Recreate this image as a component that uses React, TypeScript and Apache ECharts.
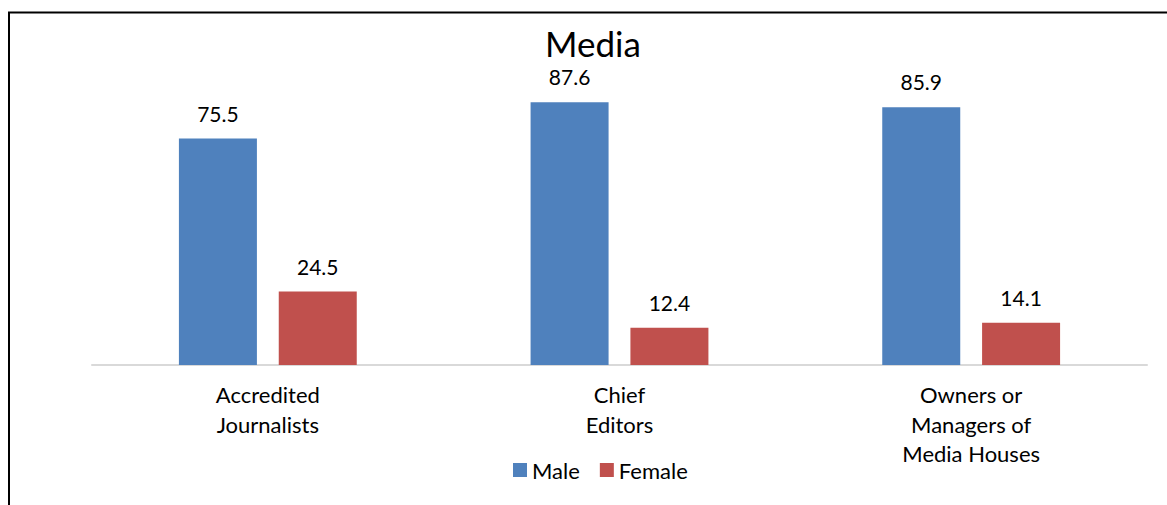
import React, { useEffect, useRef } from "react";
import * as echarts from "echarts";

const categories = ["Accredited\nJournalists", "Chief\nEditors", "Owners or\nManagers of\nMedia Houses"];
const maleValues = [75.5, 87.6, 85.9];
const femaleValues = [24.5, 12.4, 14.1];
const seriesNames = ["Male", "Female"];

const FONT = "Lato, 'Open Sans', sans-serif";

export default function App() {
  const ref = useRef<HTMLDivElement>(null);
  useEffect(() => {
    if (!ref.current) return;
    const chart = echarts.init(ref.current, null, { renderer: "svg" });
    chart.setOption({
      animation: false,
      backgroundColor: "#ffffff",
      textStyle: { fontFamily: FONT },
      title: {
        text: "Media",
        left: 588,
        top: 22,
        padding: [2, 5, 0, 5],
        textAlign: "center",
        textStyle: { fontFamily: FONT, fontSize: 35, lineHeight: 38, fontWeight: "normal", color: "#000" },
      },
      legend: {
        data: seriesNames,
        left: 508,
        top: 454,
        itemWidth: 14,
        itemHeight: 14,
        itemGap: 20,
        icon: "rect",
        textStyle: { fontFamily: FONT, fontSize: 22, color: "#000", padding: [0, 0, 0, 0] },
      },
      grid: { left: 92, right: 20, top: 65, bottom: 140, containLabel: false },
      xAxis: {
        type: "category",
        data: categories,
        axisLine: { show: true, lineStyle: { color: "#D9D9D9", width: 2 } },
        axisTick: { show: false },
        axisLabel: { fontFamily: FONT, fontSize: 22, color: "#000", lineHeight: 29.5, margin: 15 },
      },
      yAxis: {
        type: "value",
        min: 0,
        max: 100,
        show: false,
        splitLine: { show: false },
      },
      graphic: [
        { type: "line", shape: { x1: 8, y1: 12.5, x2: 1167, y2: 12.5 }, style: { stroke: "#000", lineWidth: 2 } },
        { type: "line", shape: { x1: 9, y1: 12, x2: 9, y2: 505 }, style: { stroke: "#000", lineWidth: 2 } },
      ],
      series: [
        {
          name: seriesNames[0],
          type: "bar",
          data: maleValues,
          barWidth: 78,
          barGap: "28%",
          itemStyle: { color: "#4F81BD" },
          label: { show: true, position: "top", distance: 15, fontFamily: FONT, fontSize: 21, color: "#000", formatter: (p: any) => p.value.toFixed(1) },
        },
        {
          name: seriesNames[1],
          type: "bar",
          data: femaleValues,
          barWidth: 78,
          barGap: "28%",
          itemStyle: { color: "#C0504D" },
          label: { show: true, position: "top", distance: 15, fontFamily: FONT, fontSize: 21, color: "#000", formatter: (p: any) => p.value.toFixed(1) },
        },
      ],
    });
    return () => chart.dispose();
  }, []);
  return <div ref={ref} style={{ position: "fixed", left: 0, top: 0, width: 1167, height: 505 }} />;
}
